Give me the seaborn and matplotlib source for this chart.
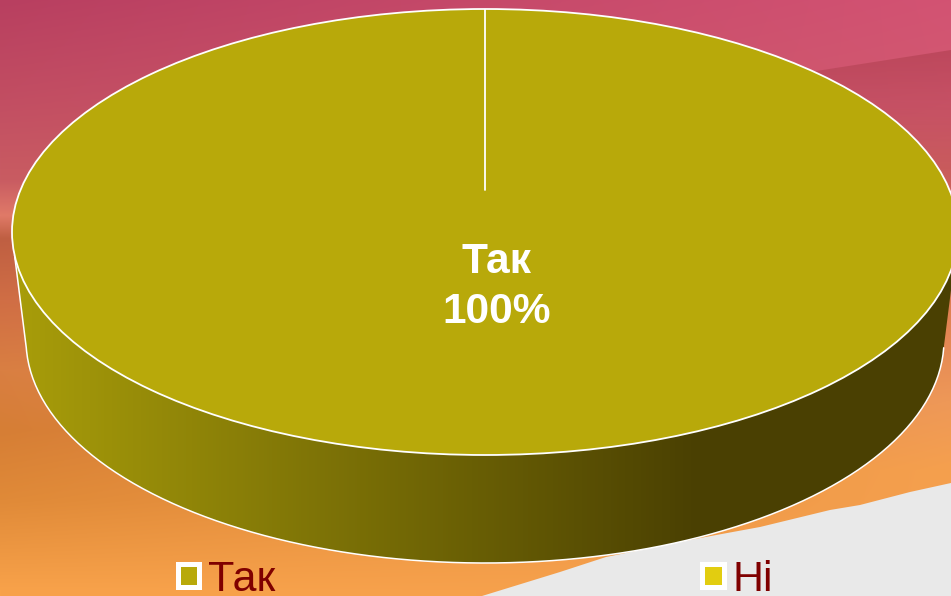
import numpy as np
import seaborn as sns
import matplotlib.pyplot as plt
from matplotlib.colors import to_rgb
from matplotlib.patches import Circle, Patch, PathPatch, Polygon
from matplotlib.path import Path

# data
categories = ['Так', 'Ні']
values = [100, 0]
pie_colors = ['#B8A90A', '#E2CD10']

W, H = 951, 596

sns.set_theme(style='white')
plt.rcParams['font.family'] = ['Liberation Sans', 'DejaVu Sans']


def column(stops):
    ys = [s[0] for s in stops]
    rgb = np.array([to_rgb(s[1]) for s in stops])
    return np.stack([np.interp(np.arange(H), ys, rgb[:, i]) for i in range(3)], axis=1)


left_stops = [(0, '#B83F60'), (100, '#C24E62'), (180, '#C95C62'), (215, '#E07A68'),
              (238, '#BF5F42'), (300, '#D06E45'), (370, '#D97F42'), (430, '#D67E35'),
              (500, '#E08A38'), (590, '#F8A24A')]
right_stops = [(0, '#D35373'), (100, '#D25A70'), (170, '#C95C5C'), (300, '#DE7E52'),
               (400, '#EE9858'), (470, '#F5A04E'), (596, '#F5A04E')]

fig = plt.figure(figsize=(W / 100, H / 100), dpi=100)
bg = fig.add_axes([0, 0, 1, 1])
bg.axis('off')

# background
t = np.linspace(0, 1, W)[None, :, None]
img = column(left_stops)[:, None, :] * (1 - t) + column(right_stops)[:, None, :] * t
bg.imshow(img, extent=[0, W, H, 0], aspect='auto', zorder=0)

# darker band, top right
shade = np.zeros((120, 1, 4))
shade[:, 0, :3] = to_rgb('#A83A48')
shade[:, 0, 3] = np.linspace(0.5, 0, 120)
band = bg.imshow(shade, extent=[790, W, 170, 50], aspect='auto', zorder=1)
band.set_clip_path(Polygon([(810, 72), (W, 50), (W, 170), (810, 170)], transform=bg.transData))

# grey corner
bg.add_patch(Polygon([(482, H), (560, 572), (606, 557), (700, 538), (760, 527), (830, 510),
                      (860, 505), (910, 492), (W, 483), (W, H)], fc='#E9E9E9', ec='none', zorder=2))

# side of the disc
cx, cy, a, b = 485, 232, 473, 223
cy2, a2 = 340, 459
th = np.radians(np.linspace(186, 354, 200))
low = np.radians(np.linspace(178, 2, 200))
top_arc = np.c_[cx + a * np.cos(th), cy - b * np.sin(th)]
low_arc = np.c_[cx + a2 * np.cos(low), cy2 + b * np.sin(low)]
side_pts = np.r_[top_arc, low_arc[::-1], top_arc[:1]]
side_path = Path(side_pts)

grad = np.array(sns.blend_palette(['#A89D0A', '#4A4002'], 685))[None, :, :]
side = bg.imshow(grad, extent=[15, 700, H, 0], aspect='auto', zorder=3)
dark = bg.imshow(np.array([[to_rgb('#4A4002')]]), extent=[699, W + 10, H, 0], aspect='auto', zorder=3)
for im in (side, dark):
    im.set_clip_path(PathPatch(side_path, transform=bg.transData))
bg.set_xlim(0, W)
bg.set_ylim(H, 0)
bg.plot(side_pts[200:, 0], side_pts[200:, 1], color='white', lw=1.1, zorder=4)

# top of the disc: the pie itself
ax = fig.add_axes([(cx - a) / W, (H - cy - b) / H, 2 * a / W, 2 * b / H])
wedges, _ = ax.pie(values, colors=pie_colors, startangle=90, counterclock=False,
                   wedgeprops={'linewidth': 0})
ax.set_aspect('auto')
ax.set_xlim(-1, 1)
ax.set_ylim(-1, 1)
ax.patch.set_alpha(0)
ax.add_patch(Circle((0, 0), 1, fc='none', ec='white', lw=1.3, clip_on=False))
ax.plot([0, 0], [1, 0.188], color='white', lw=1.3)

ax.text(497 / W, 1 - 287 / H, f'{categories[0]}\n{values[0]}%', transform=fig.transFigure,
        ha='center', va='center', color='white', fontsize=30.6, fontweight='bold', linespacing=1.33)

# legend
handles = [Patch(fc=c, ec='white', lw=3.6, joinstyle='round') for c in pie_colors]
fig.legend(handles, categories, loc='lower left', bbox_to_anchor=(177.5 / W, -4 / H), ncol=2,
           frameon=False, fontsize=31, labelcolor='#7F0000', handlelength=0.51, handleheight=0.45,
           handletextpad=0.2, columnspacing=9.9, borderaxespad=0, borderpad=0)

fig.savefig('out.png', dpi=100)
